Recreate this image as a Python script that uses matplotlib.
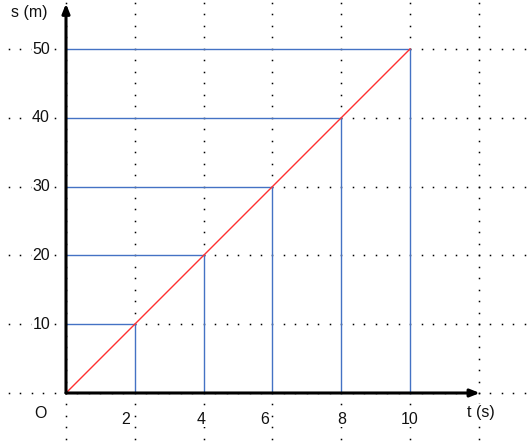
import numpy as np
import matplotlib
matplotlib.use("Agg")
import matplotlib.pyplot as plt

# data
t_vals = [2, 4, 6, 8, 10]
s_vals = [10, 20, 30, 40, 50]
x_tick_labels = ["2", "4", "6", "8", "10"]
y_tick_labels = ["10", "20", "30", "40", "50"]
x_label = "t (s)"
y_label = "s (m)"
origin_label = "O"

W, H = 531, 448
fig = plt.figure(figsize=(W / 100, H / 100), dpi=100)
ax = fig.add_axes([0, 0, 1, 1])
# pixel mapping: x_px = 66 + 34.4*x ; y_px = 393 - 6.88*y
PX_X, PX_Y = 34.4, 6.88
X0, Y0 = 66, 393
ax.set_xlim(-X0 / PX_X, (W - X0) / PX_X)
ax.set_ylim(-(H - Y0) / PX_Y, Y0 / PX_Y)
ax.axis("off")

plt.rcParams["font.family"] = ["Liberation Sans", "DejaVu Sans"]
FS = 11.5


def on_guide(x, y):
    eps = 1e-6
    for t, s in zip(t_vals, s_vals):
        if abs(y - s) < eps and -eps <= x <= t + eps:
            return True
        if abs(x - t) < eps and -eps <= y <= s + eps:
            return True
    return False


# dotted background grid
step_x = 11.47 / PX_X
step_y = 11.47 / PX_Y
dx, dy = [], []
for cx in range(0, 13, 2):
    for j in np.arange(-5, 35):
        dx.append(cx); dy.append(j * step_y)
for ry in range(0, 51, 10):
    for k in np.arange(-6, 41):
        dx.append(k * step_x); dy.append(ry)
pts = [(x, y) for x, y in zip(dx, dy) if not on_guide(x, y)]
ax.plot([p[0] for p in pts], [p[1] for p in pts], linestyle="none", marker="s",
        ms=1.1, mew=0, color="black", antialiased=False, zorder=1)

# blue projection lines
blue = "#4472C4"
for t, s in zip(t_vals, s_vals):
    ax.plot([0, t], [s, s], color=blue, lw=1.0, zorder=2)
    ax.plot([t, t], [0, s], color=blue, lw=1.0, zorder=2)

# red line
ax.plot([0] + t_vals, [0] + s_vals, color="#FF3030", lw=1.0, zorder=3)

# axes with arrows
ax.annotate("", xy=(12.03, 0), xytext=(0, 0),
            arrowprops=dict(arrowstyle="-|>,head_length=0.55,head_width=0.22", lw=2.2,
                            color="black", shrinkA=0, shrinkB=0), zorder=4)
ax.annotate("", xy=(0, 56.6), xytext=(0, 0),
            arrowprops=dict(arrowstyle="-|>,head_length=0.55,head_width=0.22", lw=2.2,
                            color="black", shrinkA=0, shrinkB=0), zorder=4)

# tick labels
x_off_px = [-9, -2, -8, 1, 0]
for t, lab, off in zip(t_vals, x_tick_labels, x_off_px):
    ax.text(t + off / PX_X, -26 / PX_Y, lab, ha="center", va="center", fontsize=FS,
            color="#111111", zorder=5,
            bbox=dict(facecolor="white", edgecolor="none", pad=0.5))
for s, lab in zip(s_vals, y_tick_labels):
    ax.text(-16 / PX_X, s, lab, ha="right", va="center", fontsize=FS,
            color="#111111", zorder=5,
            bbox=dict(facecolor="white", edgecolor="none", pad=0.5))

ax.text((40.5 - X0) / PX_X, (Y0 - 413.5) / PX_Y, origin_label, ha="center", va="center",
        fontsize=FS, color="#111111", zorder=5,
        bbox=dict(facecolor="white", edgecolor="none", pad=0.5))
ax.text((481 - X0) / PX_X, (Y0 - 412) / PX_Y, x_label, ha="center", va="center",
        fontsize=FS, color="#111111", zorder=5,
        bbox=dict(facecolor="white", edgecolor="none", pad=0.5))
ax.text((29 - X0) / PX_X, (Y0 - 12) / PX_Y, y_label, ha="center", va="center",
        fontsize=FS, color="#111111", zorder=5,
        bbox=dict(facecolor="white", edgecolor="none", pad=0.5))

fig.savefig("out.png", dpi=100, facecolor="white")
